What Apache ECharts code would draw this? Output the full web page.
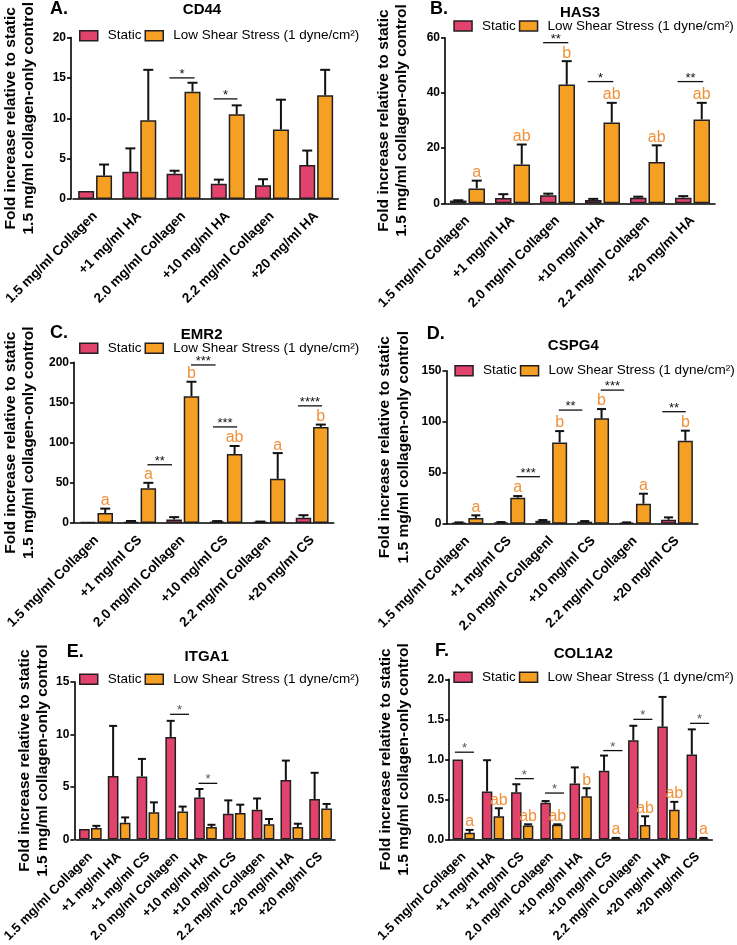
<!DOCTYPE html>
<html><head><meta charset="utf-8">
<script src="https://cdn.jsdelivr.net/npm/echarts@6/dist/echarts.min.js"></script>
<style>html,body{margin:0;padding:0;background:#fff}#c{width:737px;height:945px}</style>
</head><body><div id="c"></div>
<script>
// ---------- categories ----------
const catsHA = ['1.5 mg/ml Collagen', '+1 mg/ml HA', '2.0 mg/ml Collagen', '+10 mg/ml HA', '2.2 mg/ml Collagen', '+20 mg/ml HA'];
const catsCS = ['1.5 mg/ml Collagen', '+1 mg/ml CS', '2.0 mg/ml Collagen', '+10 mg/ml CS', '2.2 mg/ml Collagen', '+20 mg/ml CS'];
const catsCSD = ['1.5 mg/ml Collagen', '+1 mg/ml CS', '2.0 mg/ml Collagenl', '+10 mg/ml CS', '2.2 mg/ml Collagen', '+20 mg/ml CS'];
const cats9 = ['1.5 mg/ml Collagen', '+1 mg/ml HA', '+1 mg/ml CS', '2.0 mg/ml Collagen', '+10 mg/ml HA', '+10 mg/ml CS', '2.2 mg/ml Collagen', '+20 mg/ml HA', '+20 mg/ml CS'];

// ---------- A: CD44 ----------
const aStatic = [1.0, 3.37, 3.13, 1.9, 1.7, 4.2];
const aStaticErr = [0, 2.9, 0.37, 0.5, 0.75, 1.8];
const aShear = [2.9, 9.76, 13.3, 10.5, 8.6, 12.85];
const aShearErr = [1.37, 6.24, 1.1, 1.1, 3.7, 3.15];
const aLetters = [];
const aBrackets = [[2, 15.0, -0.32, 0.25, '*'], [3, 12.4, -0.32, 0.22, '*']];

// ---------- B: HAS3 ----------
const bStatic = [1.0, 1.9, 2.9, 1.2, 2.05, 2.05];
const bStaticErr = [0.1, 1.4, 0.6, 0.4, 0.35, 0.55];
const bShear = [5.4, 14.1, 43.0, 29.3, 15.0, 30.4];
const bShearErr = [2.8, 7.2, 8.5, 7.1, 6.0, 6.0];
const bLetters = ['a', 'ab', 'b', 'ab', 'ab', 'ab'];
const bBrackets = [[2, 58.2, -0.32, 0.24, '**'], [3, 44.1, -0.33, 0.24, '*'], [5, 44.1, -0.33, 0.24, '**']];

// ---------- C: EMR2 ----------
const cStatic = [1.0, 1.5, 4.5, 1.6, 1.2, 6.5];
const cStaticErr = [0, 1.0, 2.8, 0.8, 0.6, 3.2];
const cShear = [12.4, 43.3, 157.9, 85.8, 55.0, 119.6];
const cShearErr = [5.5, 6.7, 17.9, 10.0, 32.0, 2.9];
const cLetters = ['a', 'a', 'b', 'ab', 'a', 'b'];
const cBrackets = [[1, 72.5, 0.18, 0.75, '**'], [2, 196.7, 0.19, 0.76, '***'], [3, 119.6, -0.30, 0.26, '***'], [5, 145.8, -0.33, 0.23, '****']];

// ---------- D: CSPG4 ----------
const dStatic = [1.0, 1.3, 2.9, 2.0, 1.0, 3.9];
const dStaticErr = [0.3, 0.3, 0.7, 0.6, 0.3, 2.3];
const dShear = [5.6, 25.5, 79.7, 103.3, 19.6, 81.4];
const dShearErr = [2.6, 1.6, 11.1, 9.1, 9.8, 9.8];
const dLetters = ['a', 'a', 'b', 'b', 'a', 'b'];
const dBrackets = [[1, 46.1, 0.17, 0.73, '***'], [2, 111.4, 0.18, 0.74, '**'], [3, 131, 0.18, 0.74, '***'], [5, 109.8, -0.35, 0.21, '**']];

// ---------- E: ITGA1 ----------
const eStatic = [1.0, 6.03, 6.0, 9.75, 4.0, 2.44, 2.84, 5.66, 3.84];
const eStaticErr = [0, 4.77, 1.66, 1.53, 0.8, 1.28, 1.06, 1.84, 2.5];
const eShear = [1.1, 1.6, 2.6, 2.66, 1.19, 2.53, 1.45, 1.19, 2.94];
const eShearErr = [0.2, 0.5, 0.93, 0.47, 0.21, 0.78, 0.5, 0.31, 0.44];
const eLetters = [];
const eBrackets = [[3, 11.9, -0.23, 0.43, '*'], [4, 5.34, -0.24, 0.41, '*']];

// ---------- F: COL1A2 ----------
const fStatic = [1.0, 0.60, 0.59, 0.46, 0.70, 0.858, 1.24, 1.41, 1.06];
const fStaticErr = [0, 0.39, 0.10, 0.02, 0.20, 0.19, 0.18, 0.37, 0.315];
const fShear = [0.083, 0.29, 0.175, 0.183, 0.54, 0.012, 0.18, 0.37, 0.012];
const fShearErr = [0.037, 0.10, 0.015, 0.007, 0.10, 0.008, 0.11, 0.10, 0.008];
const fLetters = ['a', 'ab', 'ab', 'ab', 'b', 'a', 'ab', 'ab', 'a'];
const fBrackets = [[0, 1.09, -0.30, 0.35, '*'], [2, 0.76, -0.25, 0.40, '*'], [3, 0.58, -0.22, 0.43, '*'], [5, 1.11, -0.23, 0.43, '*'], [6, 1.5, -0.20, 0.45, '*'], [8, 1.45, -0.26, 0.39, '*']];

// ---------- styling / layout ----------
const FONT = 'Arial, "Liberation Sans", Helvetica, sans-serif';
const PINK = '#E2436C', ORANGE = '#F6A023', LETTER = '#F0913A', EDGE = '#231F20';
const S1 = 'Static', S2 = 'Low Shear Stress (1 dyne/cm\u00B2)';
const YNAME = 'Fold increase relative to static\n1.5 mg/ml collagen-only control';

const panels = [
  {tag: 'A.', title: 'CD44', cats: catsHA, st: aStatic, stE: aStaticErr, sh: aShear, shE: aShearErr, let: aLetters, br: aBrackets,
   max: 20, itv: 5, g: [70.3, 35, 268, 164], yoff: 2, bw: 16, cap: 10, xfs: 13.5, nameGap: 33,
   leg: [79, 35.7], tPos: [202, 10], lPos: [50, 9], star: '#111', dec: 0},
  {tag: 'B.', title: 'HAS3', cats: catsHA, st: bStatic, stE: bStaticErr, sh: bShear, shE: bShearErr, let: bLetters, br: bBrackets,
   max: 60, itv: 20, g: [445, 37.7, 270, 165.6], yoff: 0, bw: 16.5, cap: 10, xfs: 13.5, nameGap: 34,
   leg: [453.3, 26], tPos: [580, 12.7], lPos: [430, 9], star: '#111', dec: 0},
  {tag: 'C.', title: 'EMR2', cats: catsCS, st: cStatic, stE: cStaticErr, sh: cShear, shE: cShearErr, let: cLetters, br: cBrackets,
   max: 200, itv: 50, g: [70.3, 362.3, 263.4, 160.7], yoff: 1, bw: 15.5, cap: 10, xfs: 13.5, nameGap: 36,
   leg: [79, 348.3], tPos: [201.7, 335], lPos: [50, 333.5], star: '#111', dec: 0},
  {tag: 'D.', title: 'CSPG4', cats: catsCSD, st: dStatic, stE: dStaticErr, sh: dShear, shE: dShearErr, let: dLetters, br: dBrackets,
   max: 150, itv: 50, g: [446.5, 370.7, 251.4, 153], yoff: 0, bw: 15, cap: 9, xfs: 13.5, nameGap: 34,
   leg: [454.3, 370.7], tPos: [573.3, 346], lPos: [426.7, 334], star: '#111', dec: 0},
  {tag: 'E.', title: 'ITGA1', cats: cats9, st: eStatic, stE: eStaticErr, sh: eShear, shE: eShearErr, let: eLetters, br: eBrackets,
   max: 15, itv: 5, g: [73.2, 681.7, 261.8, 160], yoff: 1.5, bw: 10.7, cap: 8, xfs: 13, nameGap: 21,
   leg: [79, 679.3], tPos: [206.7, 656.7], lPos: [66.7, 652.5], star: '#555', dec: 0},
  {tag: 'F.', title: 'COL1A2', cats: cats9, st: fStatic, stE: fStaticErr, sh: fShear, shE: fShearErr, let: fLetters, br: fBrackets,
   max: 2, itv: 0.5, g: [449.1, 679.3, 263.2, 160.7], yoff: 0, bw: 10.5, cap: 8, xfs: 13, nameGap: 36,
   leg: [453.3, 677.3], tPos: [583.3, 654], lPos: [435, 651], star: '#555', dec: 1}
];

const option = {animation: false, backgroundColor: '#fff', textStyle: {fontFamily: FONT},
  grid: [], xAxis: [], yAxis: [], series: [], legend: [], graphic: []};

function errSeries(gi, means, errs, off, cap) {
  return {type: 'custom', xAxisIndex: gi, yAxisIndex: gi, z: 5, silent: true,
    data: means.map((m, i) => [i, m, errs[i]]),
    renderItem(params, api) {
      const i = api.value(0), m = api.value(1), e = api.value(2);
      if (!(e > 0)) return null;
      const a = api.coord([i, m]), b = api.coord([i, m + e]);
      const x = a[0] + off;
      return {type: 'group', children: [
        {type: 'line', shape: {x1: x, y1: a[1], x2: x, y2: b[1]}, style: {stroke: '#111', lineWidth: 2}},
        {type: 'line', shape: {x1: x - cap / 2, y1: b[1], x2: x + cap / 2, y2: b[1]}, style: {stroke: '#111', lineWidth: 2}}
      ]};
    }};
}

panels.forEach((p, gi) => {
  option.grid.push({left: p.g[0], top: p.g[1], width: p.g[2], height: p.g[3], containLabel: false});
  option.xAxis.push({gridIndex: gi, type: 'category', data: p.cats,
    axisLine: {lineStyle: {color: '#000', width: 1.6}},
    axisTick: {alignWithLabel: true, length: 4, lineStyle: {color: '#000', width: 1.6}},
    axisLabel: {interval: 0, rotate: 45, fontSize: p.xfs, fontWeight: 'bold', color: '#000', margin: 15, fontFamily: FONT},
    splitLine: {show: false}});
  option.yAxis.push({gridIndex: gi, type: 'value', min: 0, max: p.max, interval: p.itv, offset: p.yoff,
    name: YNAME, nameLocation: 'middle', nameGap: p.nameGap, nameRotate: 90,
    nameTextStyle: {fontWeight: 'bold', fontSize: 15.5, lineHeight: 18.5, color: '#000', fontFamily: FONT},
    axisLine: {show: true, lineStyle: {color: '#000', width: 1.6}},
    axisTick: {show: true, length: 4, lineStyle: {color: '#000', width: 1.6}},
    axisLabel: {fontWeight: 'bold', fontSize: 12, color: '#000', margin: 5, fontFamily: FONT,
      formatter: v => p.dec ? v.toFixed(p.dec) : String(v)},
    splitLine: {show: false}});
  option.series.push({type: 'bar', name: S1, xAxisIndex: gi, yAxisIndex: gi, data: p.st, barWidth: p.bw, barGap: '12%',
    itemStyle: {color: PINK, borderColor: EDGE, borderWidth: 1.5}, z: 2});
  option.series.push({type: 'bar', name: S2, xAxisIndex: gi, yAxisIndex: gi, data: p.sh, barWidth: p.bw, barGap: '12%',
    itemStyle: {color: ORANGE, borderColor: EDGE, borderWidth: 1.5}, z: 2});
  const off = p.bw * 1.12 / 2;
  option.series.push(errSeries(gi, p.st, p.stE, -off, p.cap));
  option.series.push(errSeries(gi, p.sh, p.shE, off, p.cap));
  // significance brackets
  const br = p.br;
  option.series.push({type: 'custom', xAxisIndex: gi, yAxisIndex: gi, z: 6, silent: true,
    data: br.map(b => [b[0], b[1], b[2], b[3]]),
    renderItem(params, api) {
      const c = api.coord([api.value(0), api.value(1)]);
      const band = api.size([1, 0])[0];
      const x1 = c[0] + api.value(2) * band, x2 = c[0] + api.value(3) * band, y = c[1];
      return {type: 'group', children: [
        {type: 'line', shape: {x1: x1, y1: y, x2: x2, y2: y}, style: {stroke: '#111', lineWidth: 1.3}},
        {type: 'text', x: (x1 + x2) / 2, y: y + 3, style: {text: br[params.dataIndex][4], textAlign: 'center', align: 'center',
          textVerticalAlign: 'bottom', verticalAlign: 'bottom', fill: p.star, font: '13px ' + FONT}}
      ]};
    }});
  // letters
  if (p.let.length) {
    const lt = p.let;
    option.series.push({type: 'custom', xAxisIndex: gi, yAxisIndex: gi, z: 6, silent: true,
      data: lt.map((l, i) => [i, p.sh[i] + p.shE[i]]),
      renderItem(params, api) {
        const c = api.coord([api.value(0), api.value(1)]);
        return {type: 'text', x: c[0] + off, y: c[1], style: {text: lt[params.dataIndex], textAlign: 'center', align: 'center',
          textVerticalAlign: 'bottom', verticalAlign: 'bottom', fill: LETTER, font: '16px ' + FONT}};
      }});
  }
  option.legend.push({data: [S1, S2], left: p.leg[0], top: p.leg[1] - 7, padding: 0, itemWidth: 18, itemHeight: 10, itemGap: 3,
    icon: 'rect', selectedMode: false,
    itemStyle: {borderColor: EDGE, borderWidth: 1.5},
    textStyle: {fontSize: 13.5, color: '#000', fontFamily: FONT, padding: [0, 0, 0, 5]}});
  option.graphic.push({type: 'text', x: p.tPos[0], y: p.tPos[1], style: {text: p.title, textAlign: 'center', align: 'center',
    textVerticalAlign: 'middle', verticalAlign: 'middle', fill: '#000', font: 'bold 15px ' + FONT}});
  option.graphic.push({type: 'text', x: p.lPos[0], y: p.lPos[1], style: {text: p.tag, textAlign: 'left', align: 'left',
    textVerticalAlign: 'middle', verticalAlign: 'middle', fill: '#000', font: 'bold 18px ' + FONT}});
});

const chart = echarts.init(document.getElementById('c'), null, {renderer: 'canvas'});
chart.setOption(option);
</script>
</body></html>
